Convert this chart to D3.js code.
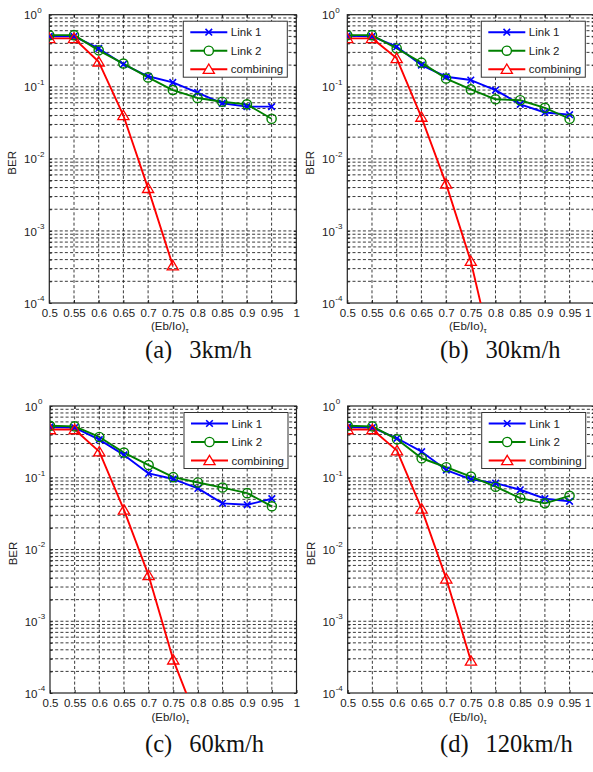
<!DOCTYPE html>
<html><head><meta charset="utf-8">
<script src="https://cdn.jsdelivr.net/npm/d3@7"></script>
<style>body{margin:0;background:#fff;overflow:hidden} svg{display:block}</style>
</head><body><svg id="c" width="593" height="772"></svg>
<script>
// ---------- data ----------
const xValues = [0.5, 0.55, 0.6, 0.65, 0.7, 0.75, 0.8, 0.85, 0.9, 0.95];
const xTicks = [0.5, 0.55, 0.6, 0.65, 0.7, 0.75, 0.8, 0.85, 0.9, 0.95, 1];
const xTickLabels = ["0.5", "0.55", "0.6", "0.65", "0.7", "0.75", "0.8", "0.85", "0.9", "0.95", "1"];
const yTicks = [1e-4, 1e-3, 1e-2, 1e-1, 1];
const yTickExps = ["-4", "-3", "-2", "-1", "0"];
const seriesNames = ["Link 1", "Link 2", "combining"];
const captionTags = ["(a)", "(b)", "(c)", "(d)"];
const captionSpeeds = ["3km/h", "30km/h", "60km/h", "120km/h"];

// (a) 3 km/h
const link1_3 = [0.50, 0.50, 0.34, 0.205, 0.14, 0.115, 0.083, 0.059, 0.053, 0.053];
const link2_3 = [0.52, 0.52, 0.32, 0.21, 0.135, 0.09, 0.07, 0.062, 0.057, 0.036];
const comb_3 = [0.47, 0.47, 0.222, 0.040, 0.0039, 0.00033];
// (b) 30 km/h
const link1_30 = [0.51, 0.50, 0.36, 0.20, 0.138, 0.124, 0.09, 0.057, 0.044, 0.041];
const link2_30 = [0.52, 0.52, 0.34, 0.216, 0.13, 0.092, 0.067, 0.065, 0.051, 0.036];
const comb_30 = [0.47, 0.47, 0.248, 0.038, 0.0045, 0.00038, 0.000013];
// (c) 60 km/h
const link1_60 = [0.51, 0.50, 0.34, 0.208, 0.115, 0.096, 0.071, 0.044, 0.042, 0.051];
const link2_60 = [0.53, 0.52, 0.37, 0.224, 0.15, 0.102, 0.086, 0.073, 0.061, 0.040];
const comb_60 = [0.47, 0.47, 0.231, 0.0357, 0.00435, 0.00029, 0.000038];
// (d) 120 km/h
const link1_120 = [0.51, 0.50, 0.355, 0.231, 0.128, 0.095, 0.084, 0.068, 0.051, 0.047];
const link2_120 = [0.53, 0.52, 0.343, 0.187, 0.14, 0.104, 0.075, 0.052, 0.044, 0.056];
const comb_120 = [0.47, 0.47, 0.239, 0.0368, 0.0039, 0.00028];

// ---------- layout ----------
const panels = [
  {left: 49.3, top: 14.7, w: 247, h: 288.3, l1: link1_3, l2: link2_3, c: comb_3, capX: 145, capY: 358},
  {left: 347.3, top: 14.7, w: 247, h: 288.3, l1: link1_30, l2: link2_30, c: comb_30, capX: 440, capY: 358},
  {left: 50, top: 406, w: 246.5, h: 287, l1: link1_60, l2: link2_60, c: comb_60, capX: 145, capY: 752},
  {left: 347.7, top: 406, w: 246.5, h: 287, l1: link1_120, l2: link2_120, c: comb_120, capX: 440, capY: 752}
];
const colors = ["#0000ff", "#008000", "#ff0000"];
const FONT = "'Liberation Sans', Arial, sans-serif";
const svg = d3.select("#c");

const minorY = [];
for (let k = -4; k < 0; k++) for (let m = 1; m <= 9; m++) minorY.push(m * Math.pow(10, k));
minorY.push(1);

const triPath = "M0,-5.2L5.6,4.2L-5.6,4.2Z";
const xPath = "M-3.3,-3.3L3.3,3.3M-3.3,3.3L3.3,-3.3";

panels.forEach((p, pi) => {
  const g = svg.append("g").attr("transform", `translate(${p.left},${p.top})`);
  const x = d3.scaleLinear().domain([0.5, 1]).range([0, p.w]);
  const y = d3.scaleLog().domain([1e-4, 1]).range([p.h, 0]);

  const clipId = "clip" + pi;
  g.append("clipPath").attr("id", clipId).append("rect").attr("width", p.w).attr("height", p.h);

  // grid
  const grid = g.append("g").attr("stroke", "#222").attr("stroke-width", 0.9).attr("stroke-dasharray", "3,2.2");
  grid.selectAll("line.v").data(xTicks.slice(1, -1)).join("line")
    .attr("x1", d => x(d)).attr("x2", d => x(d)).attr("y1", 0).attr("y2", p.h);
  grid.selectAll("line.h").data(minorY.filter(v => v > 1e-4 && v < 1)).join("line")
    .attr("x1", 0).attr("x2", p.w).attr("y1", d => y(d)).attr("y2", d => y(d));

  // axes (inward ticks)
  const xb = g.append("g").attr("transform", `translate(0,${p.h})`)
    .call(d3.axisBottom(x).tickValues(xTicks).tickFormat((d, i) => xTickLabels[i]).tickSizeInner(-3).tickSizeOuter(0).tickPadding(6.3));
  xb.selectAll("text").attr("font-family", FONT).attr("font-size", 11.5).attr("fill", "#222");
  // keep the last label inside the page
  xb.selectAll("text").filter(d => d === 1 && p.left + p.w > 590).attr("text-anchor", "end").attr("dx", -3.5);
  g.append("g").call(d3.axisTop(x).tickValues(xTicks).tickFormat("").tickSizeInner(-3).tickSizeOuter(0));
  g.append("g").call(d3.axisLeft(y).tickValues(minorY).tickFormat("").tickSizeInner(-2.5).tickSizeOuter(0));
  g.append("g").attr("transform", `translate(${p.w},0)`).call(d3.axisRight(y).tickValues(minorY).tickFormat("").tickSizeInner(-2.5).tickSizeOuter(0));
  g.selectAll(".domain").remove();
  g.selectAll(".tick line").attr("stroke", "#222");
  g.append("rect").attr("width", p.w).attr("height", p.h).attr("fill", "none").attr("stroke", "#222").attr("stroke-width", 1.2);

  // y tick labels 10^k
  const yl = g.append("g").attr("font-family", FONT).attr("fill", "#222");
  yTicks.forEach((v, i) => {
    yl.append("text").attr("x", -12.5).attr("y", y(v) + 4.6).attr("text-anchor", "end").attr("font-size", 11.5).text("10");
    yl.append("text").attr("x", -12).attr("y", y(v) - 2.2).attr("text-anchor", "start").attr("font-size", 8).text(yTickExps[i]);
  });

  // axis titles
  g.append("text").attr("transform", `translate(${-33},${p.h / 2 + 4}) rotate(-90)`)
    .attr("text-anchor", "middle").attr("font-family", FONT).attr("font-size", 11.5).attr("fill", "#222").text("BER");
  const xt = g.append("text").attr("x", p.w / 2 - 3).attr("y", p.h + 27.5).attr("text-anchor", "middle")
    .attr("font-family", FONT).attr("font-size", 11.5).attr("fill", "#222");
  xt.append("tspan").text("(Eb/Io)");
  xt.append("tspan").attr("font-size", 8).attr("dy", 3).text("τ");

  // series
  const plot = g.append("g").attr("clip-path", `url(#${clipId})`);
  const seriesData = [p.l1, p.l2, p.c];
  const line = d3.line().x(d => x(d[0])).y(d => y(d[1]));
  seriesData.forEach((arr, si) => {
    const pts = arr.map((v, i) => [xValues[i], v]);
    plot.append("path").datum(pts).attr("d", line).attr("fill", "none")
      .attr("stroke", colors[si]).attr("stroke-width", 1.9).attr("stroke-linejoin", "round");
  });
  seriesData.forEach((arr, si) => {
    const pts = arr.map((v, i) => [xValues[i], v]);
    const m = plot.append("g").selectAll("g").data(pts).join("g")
      .attr("transform", d => `translate(${x(d[0])},${y(d[1])})`);
    if (si === 0) m.append("path").attr("d", xPath).attr("stroke", colors[0]).attr("stroke-width", 1.6).attr("fill", "none");
    if (si === 1) m.append("circle").attr("r", 4.6).attr("stroke", colors[1]).attr("stroke-width", 1.4).attr("fill", "none");
    if (si === 2) m.append("path").attr("d", triPath).attr("stroke", colors[2]).attr("stroke-width", 1.3).attr("fill", "none");
  });

  // legend
  const lg = g.append("g").attr("transform", `translate(134,6.5)`);
  lg.append("rect").attr("width", 104).attr("height", 56).attr("fill", "#fff").attr("stroke", "#333").attr("stroke-width", 1);
  seriesNames.forEach((name, si) => {
    const yy = [11, 29.5, 48][si];
    const e = lg.append("g").attr("transform", `translate(0,${yy})`);
    e.append("line").attr("x1", 7).attr("x2", 44).attr("stroke", colors[si]).attr("stroke-width", 1.9);
    const mk = e.append("g").attr("transform", "translate(25.5,0)");
    if (si === 0) mk.append("path").attr("d", xPath).attr("stroke", colors[0]).attr("stroke-width", 1.6);
    if (si === 1) mk.append("circle").attr("r", 4.6).attr("stroke", colors[1]).attr("stroke-width", 1.4).attr("fill", "#fff");
    if (si === 2) mk.append("path").attr("d", triPath).attr("stroke", colors[2]).attr("stroke-width", 1.3).attr("fill", "#fff");
    e.append("text").attr("x", 47.5).attr("y", 4.2).attr("font-family", FONT).attr("font-size", 11.5).attr("fill", "#222").text(name);
  });

  // caption
  const cap = svg.append("text").attr("x", p.capX).attr("y", p.capY)
    .attr("font-family", "'Liberation Serif', 'Times New Roman', serif").attr("font-size", 24.5).attr("fill", "#111");
  cap.append("tspan").text(captionTags[pi]);
  cap.append("tspan").attr("dx", 17).text(captionSpeeds[pi]);
});
</script></body></html>
